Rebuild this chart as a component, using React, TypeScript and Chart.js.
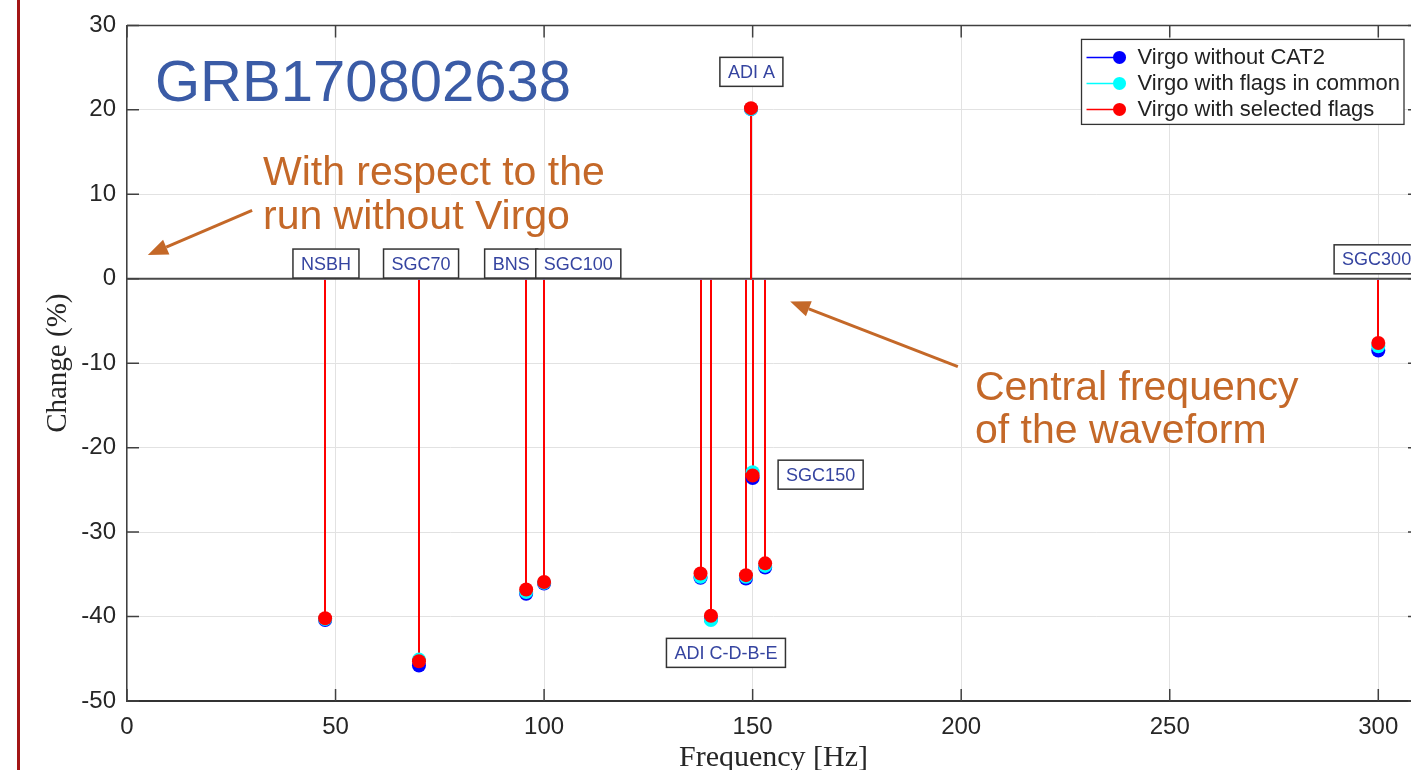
import React, { useEffect, useRef } from "react";
import { Chart, registerables } from "chart.js";

Chart.register(...registerables);

// ---- data ----
const frequencies = [47.5, 70, 95.7, 100, 137.5, 140, 148.4, 149.6, 150, 153, 300];
const virgoWithoutCat2 = [-40.4, -45.8, -37.3, -36.1, -35.4, -40.3, -35.5, 20.1, -23.6, -34.2, -8.5];
const virgoFlagsCommon = [-40.3, -45.1, -37.1, -36.0, -35.3, -40.4, -35.3, 20.1, -22.9, -34.0, -8.0];
const virgoSelectedFlags = [-40.2, -45.3, -36.8, -35.9, -34.9, -39.9, -35.1, 20.2, -23.3, -33.7, -7.6];

const seriesNames = ["Virgo without CAT2", "Virgo with flags in common", "Virgo with selected flags"];
const seriesColors = ["#0000ff", "#00ffff", "#ff0000"];

const xTickValues = [0, 50, 100, 150, 200, 250, 300];
const yTickValues = [-50, -40, -30, -20, -10, 0, 10, 20, 30];

const waveformLabels = ["NSBH", "SGC70", "BNS", "SGC100", "ADI A", "SGC150", "ADI C-D-B-E", "SGC300"];
const waveformLabelX = [47.7, 70.5, 92.1, 108.2, 149.7, 166.3, 143.6, 299.6];
const waveformLabelY = [1.8, 1.8, 1.8, 1.8, 24.5, -23.2, -44.3, 2.3];

const titleText = "GRB170802638";
const noteLines1 = ["With respect to the", "run without Virgo"];
const noteLines2 = ["Central frequency", "of the waveform"];

const ORANGE = "rgb(196,104,40)";

const overlayPlugin = {
  id: "overlay",
  beforeDatasetsDraw(chart: any) {
    const { ctx, chartArea } = chart;
    const xs = chart.scales.x;
    const ys = chart.scales.y;
    ctx.save();
    // zero baseline
    const y0 = ys.getPixelForValue(0);
    ctx.strokeStyle = "#4a4a4a";
    ctx.lineWidth = 2;
    ctx.beginPath();
    ctx.moveTo(chartArea.left, y0);
    ctx.lineTo(chartArea.right, y0);
    ctx.stroke();
    // stems
    const all = [virgoWithoutCat2, virgoFlagsCommon, virgoSelectedFlags];
    all.forEach((vals, si) => {
      ctx.strokeStyle = seriesColors[si];
      ctx.lineWidth = 2;
      vals.forEach((v, i) => {
        const px = Math.round(xs.getPixelForValue(frequencies[i]));
        ctx.beginPath();
        ctx.moveTo(px, y0 + 1);
        ctx.lineTo(px, ys.getPixelForValue(v));
        ctx.stroke();
      });
    });
    ctx.restore();
  },
  afterDraw(chart: any) {
    const { ctx, chartArea } = chart;
    const xs = chart.scales.x;
    const ys = chart.scales.y;
    ctx.save();
    // frame top + right
    ctx.strokeStyle = "#404040";
    ctx.lineWidth = 1.5;
    ctx.beginPath();
    ctx.moveTo(chartArea.left, chartArea.top);
    ctx.lineTo(chartArea.right, chartArea.top);
    ctx.moveTo(chartArea.right, chartArea.top);
    ctx.lineTo(chartArea.right, chartArea.bottom);
    ctx.stroke();
    // inward ticks
    const tl = 12;
    ctx.beginPath();
    xTickValues.forEach((v) => {
      const px = xs.getPixelForValue(v);
      ctx.moveTo(px, chartArea.bottom);
      ctx.lineTo(px, chartArea.bottom - tl);
      ctx.moveTo(px, chartArea.top);
      ctx.lineTo(px, chartArea.top + tl);
    });
    yTickValues.forEach((v) => {
      const py = ys.getPixelForValue(v);
      ctx.moveTo(chartArea.left, py);
      ctx.lineTo(chartArea.left + tl, py);
      ctx.moveTo(chartArea.right, py);
      ctx.lineTo(chartArea.right - tl, py);
    });
    ctx.stroke();

    // waveform label boxes
    ctx.font = '18px "Liberation Sans"';
    ctx.textAlign = "center";
    ctx.textBaseline = "middle";
    waveformLabels.forEach((t, i) => {
      const cx = xs.getPixelForValue(waveformLabelX[i]);
      const cy = ys.getPixelForValue(waveformLabelY[i]);
      const w = ctx.measureText(t).width + 16;
      const h = 29;
      ctx.fillStyle = "#ffffff";
      ctx.fillRect(cx - w / 2, cy - h / 2, w, h);
      ctx.strokeStyle = "#333333";
      ctx.lineWidth = 1.5;
      ctx.strokeRect(cx - w / 2, cy - h / 2, w, h);
      ctx.fillStyle = "#3544a0";
      ctx.fillText(t, cx, cy + 1);
    });

    // legend
    ctx.font = '22px "Liberation Sans"';
    const textW = Math.max(...seriesNames.map((s) => ctx.measureText(s).width));
    const lw = 56 + textW + 4;
    const lh = 85;
    const lx = chartArea.right - 16 - lw;
    const ly = chartArea.top + 14;
    ctx.fillStyle = "#ffffff";
    ctx.fillRect(lx, ly, lw, lh);
    ctx.strokeStyle = "#333333";
    ctx.lineWidth = 1.3;
    ctx.strokeRect(lx, ly, lw, lh);
    seriesNames.forEach((name, i) => {
      const ry = ly + 18 + i * 26;
      ctx.strokeStyle = seriesColors[i];
      ctx.lineWidth = 1.5;
      ctx.beginPath();
      ctx.moveTo(lx + 5, ry);
      ctx.lineTo(lx + 38, ry);
      ctx.stroke();
      ctx.fillStyle = seriesColors[i];
      ctx.beginPath();
      ctx.arc(lx + 38, ry, 6.5, 0, Math.PI * 2);
      ctx.fill();
      ctx.fillStyle = "#222222";
      ctx.textAlign = "left";
      ctx.textBaseline = "middle";
      ctx.fillText(name, lx + 56, ry + 1);
    });

    // title
    ctx.fillStyle = "#3a5ba6";
    ctx.font = '58px "Liberation Sans"';
    ctx.textAlign = "left";
    ctx.textBaseline = "alphabetic";
    ctx.fillText(titleText, xs.getPixelForValue(6.7), ys.getPixelForValue(21.1));

    // notes
    ctx.fillStyle = ORANGE;
    ctx.font = '41px "Liberation Sans"';
    ctx.fillText(noteLines1[0], xs.getPixelForValue(32.6), ys.getPixelForValue(11.1));
    ctx.fillText(noteLines1[1], xs.getPixelForValue(32.6), ys.getPixelForValue(5.9));
    ctx.fillText(noteLines2[0], xs.getPixelForValue(203.3), ys.getPixelForValue(-14.3));
    ctx.fillText(noteLines2[1], xs.getPixelForValue(203.3), ys.getPixelForValue(-19.5));

    const arrow = (x1: number, y1: number, x2: number, y2: number) => {
      const ax = xs.getPixelForValue(x1), ay = ys.getPixelForValue(y1);
      const bx = xs.getPixelForValue(x2), by = ys.getPixelForValue(y2);
      const ang = Math.atan2(by - ay, bx - ax);
      const hl = 20, hw = 8;
      const baseX = bx - hl * Math.cos(ang), baseY = by - hl * Math.sin(ang);
      ctx.strokeStyle = ORANGE;
      ctx.lineWidth = 3;
      ctx.beginPath();
      ctx.moveTo(ax, ay);
      ctx.lineTo(baseX, baseY);
      ctx.stroke();
      ctx.fillStyle = ORANGE;
      ctx.beginPath();
      ctx.moveTo(bx, by);
      ctx.lineTo(baseX + hw * Math.sin(ang), baseY - hw * Math.cos(ang));
      ctx.lineTo(baseX - hw * Math.sin(ang), baseY + hw * Math.cos(ang));
      ctx.closePath();
      ctx.fill();
    };
    arrow(30.0, 8.1, 5.0, 2.8);
    arrow(199.2, -10.4, 159.0, -2.7);

    // axis titles
    ctx.fillStyle = "#262626";
    ctx.font = '30px "Liberation Serif"';
    ctx.textAlign = "center";
    ctx.textBaseline = "alphabetic";
    ctx.fillText("Frequency [Hz]", (chartArea.left + chartArea.right) / 2, 766);
    ctx.save();
    ctx.translate(66, (chartArea.top + chartArea.bottom) / 2);
    ctx.rotate(-Math.PI / 2);
    ctx.font = '29px "Liberation Serif"';
    ctx.fillText("Change (%)", 0, 0);
    ctx.restore();

    // slide border line
    ctx.fillStyle = "#a31515";
    ctx.fillRect(17, 0, 3, chart.height);
    ctx.restore();
  },
};

export default function App() {
  const canvasRef = useRef<HTMLCanvasElement | null>(null);

  useEffect(() => {
    document.body.style.margin = "0";
    const canvas = canvasRef.current;
    if (!canvas) return;
    const mk = (vals: number[]) => vals.map((v, i) => ({ x: frequencies[i], y: v }));
    const chart = new Chart(canvas, {
      type: "scatter",
      data: {
        datasets: [
          { label: seriesNames[0], data: mk(virgoWithoutCat2), backgroundColor: seriesColors[0], pointRadius: 7, pointBorderWidth: 0, order: 3 },
          { label: seriesNames[1], data: mk(virgoFlagsCommon), backgroundColor: seriesColors[1], pointRadius: 7, pointBorderWidth: 0, order: 2 },
          { label: seriesNames[2], data: mk(virgoSelectedFlags), backgroundColor: seriesColors[2], pointRadius: 7, pointBorderWidth: 0, order: 1 },
        ],
      },
      options: {
        animation: false,
        responsive: false,
        maintainAspectRatio: false,
        layout: { padding: { left: 0, right: 20, top: 23, bottom: 0 } },
        plugins: {
          legend: { display: false },
          tooltip: { enabled: false },
        },
        scales: {
          x: {
            type: "linear",
            min: 0,
            max: 310,
            afterBuildTicks: (s: any) => {
              s.ticks = xTickValues.map((v) => ({ value: v }));
            },
            afterFit: (s: any) => {
              s.height = 69;
            },
            grid: { color: "#e2e2e2", lineWidth: 1, drawTicks: false },
            border: { display: true, color: "#333333", width: 2 },
            ticks: {
              font: { family: "Liberation Sans", size: 24 },
              color: "#262626",
              padding: 12,
              maxRotation: 0,
              autoSkip: false,
            },
          },
          y: {
            type: "linear",
            min: -50,
            max: 30,
            afterBuildTicks: (s: any) => {
              s.ticks = yTickValues.map((v) => ({ value: v }));
            },
            afterFit: (s: any) => {
              s.width = 127;
            },
            grid: { color: "#e2e2e2", lineWidth: 1, drawTicks: false },
            border: { display: true, color: "#404040", width: 1.5 },
            ticks: {
              font: { family: "Liberation Sans", size: 24 },
              color: "#262626",
              padding: 11,
              autoSkip: false,
            },
          },
        },
      },
      plugins: [overlayPlugin],
    });
    return () => chart.destroy();
  }, []);

  return (
    <div
      style={{
        position: "fixed",
        left: 0,
        top: 0,
        width: 1411,
        height: 770,
        overflow: "hidden",
        background: "#ffffff",
      }}
    >
      <canvas ref={canvasRef} width={1440} height={770} style={{ width: 1440, height: 770, display: "block" }} />
    </div>
  );
}
